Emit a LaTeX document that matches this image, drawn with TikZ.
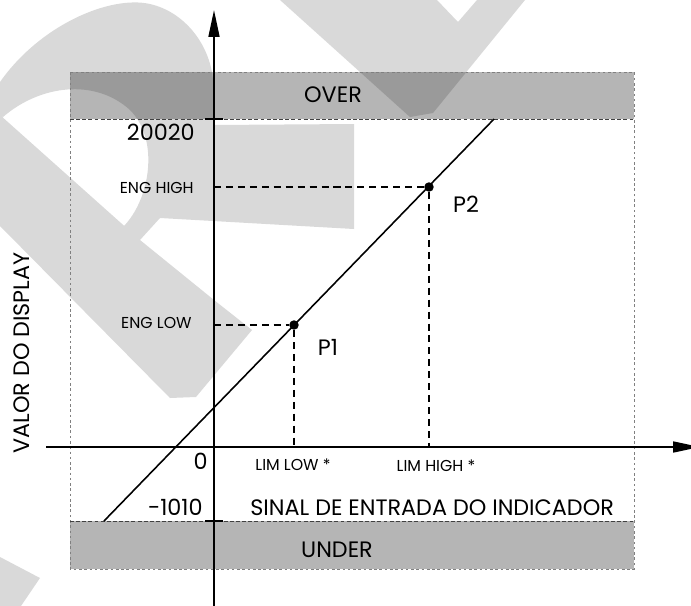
\documentclass[tikz,border=0pt]{standalone}
\usepackage{fontspec}
\setmainfont{Poppins}
\usetikzlibrary{arrows.meta,positioning,calc}
\definecolor{bandgray}{gray}{0.71}
\definecolor{framegray}{gray}{0.5}

\begin{document}
\begin{tikzpicture}
[x=0.02cm,y=-0.02cm,
 axis/.style={line width=1.1pt,-{Triangle[length=15.3pt,width=6.2pt]}},
 band/.style={fill=bandgray},
 water/.style={fill=black,fill opacity=0.15},
 frame/.style={draw=framegray,line width=0.4pt,dash pattern=on 1.5pt off 1.5pt},
 limit/.style={draw=black!75,line width=0.5pt,dash pattern=on 2.2pt off 1.3pt},
 guide/.style={line width=0.85pt,dash pattern=on 4pt off 2.8pt},
 dot/.style={circle,fill,inner sep=0pt,minimum size=5.4pt},
 big/.style={font=\fontsize{12.7}{14}\selectfont,inner sep=0pt},
 small/.style={font=\fontsize{9}{10}\selectfont,inner sep=0pt}]
      \useasboundingbox (0,0) rectangle (691,606);
      \coordinate (fnw) at (70,72);
      \coordinate (fse) at (634,569);
      \coordinate (overw) at (70,119);
      \coordinate (overe) at (634,119);
      \coordinate (underw) at (70,521);
      \coordinate (undere) at (634,521);
      \fill[band] (fnw) rectangle (overe);
      \fill[band] (underw) rectangle (fse);

      \fill[water]
      (0,82) .. controls (40,25) and (110,-5) .. (150,4) .. controls (185,12) and (210,45) .. (213,80)
      -- (213,125) -- (354,124) -- (354,229) -- (160,218) -- (140,240) -- (123,227)
      .. controls (150,200) and (160,140) .. (130,110) .. controls (95,78) and (40,85) .. (3,117)
      -- (0,115) -- cycle
      (0,115) -- (140,240) -- (214,300) -- (252,330) -- (196,397) -- (170,398) -- (0,226) -- cycle
      (280,0) -- (437,0) -- (458,22) -- (477,0) -- (525,0) -- (433,113) -- (410,117) -- cycle
      (0,557) -- (40,578) -- (21,606) -- (0,606) -- cycle;

      \draw[frame] (fnw) rectangle (fse);
      \draw[limit] (overw) -- (overe);
      \draw[limit] (underw) -- (undere);

      \coordinate (O) at (214,447);
      \coordinate (ybot) at (214,610);
      \coordinate (ytop) at (214,10);
      \coordinate (xleft) at (46,447);
      \coordinate (xright) at (700,447);
      \draw[axis] (ybot) -- (ytop);
      \draw[axis] (xleft) -- (xright);
      \draw[line width=0.9pt] ($(overw -| O)+(-9,0)$) -- ($(overw -| O)+(9,0)$);
      \draw[line width=0.9pt] ($(underw -| O)+(-9,0)$) -- ($(underw -| O)+(9,0)$);

      \coordinate (lo) at (104,521);
      \coordinate (hi) at (494,119);
      \draw[line width=0.9pt] (lo) -- (hi);
      \node[dot] (P1) at (294,325) {};
      \node[dot] (P2) at (429,187) {};
      \draw[guide] (P1 -| O) -- (P1) -- (P1 |- O);
      \draw[guide] (P2 -| O) -- (P2) -- (P2 |- O);

      \node[big] (over) at (333,95) {OVER};
      \node[big] (under) at (337,550) {UNDER};
      \node[big,anchor=east] (vmax) at (195,132) {20020};
      \node[big,anchor=east] (vmin) at (203,507) {-1010};
      \node[big,anchor=east] (zero) at (208,461) {0};
      \node[small,anchor=east] (enghigh) at (194,188) {ENG HIGH};
      \node[small,anchor=east] (englow) at (192,323) {ENG LOW};
      \node[small] (limlow) at (293,465) {LIM LOW *};
      \node[small] (limhigh) at (436,466) {LIM HIGH *};
      \node[big] (p1text) at ($(P1)+(34,22)$) {P1};
      \node[big] (p2text) at ($(P2)+(37,17)$) {P2};
      \node[big,anchor=west] (xlabel) at (250,508) {SINAL DE ENTRADA DO INDICADOR};
      \node[big,rotate=90] (ylabel) at (22,353) {VALOR DO DISPLAY};
\end{tikzpicture}
\end{document}
